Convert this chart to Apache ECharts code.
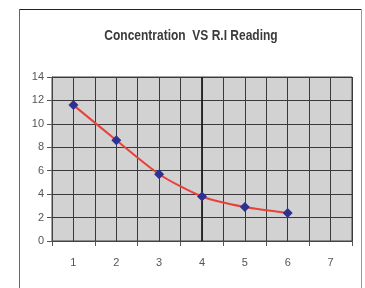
<!DOCTYPE html>
<html><head><meta charset="utf-8">
<script src="https://cdn.jsdelivr.net/npm/echarts@6/dist/echarts.min.js"></script>
<style>html,body{margin:0;padding:0;background:#fff}#c{width:365px;height:288px}</style>
</head><body><div id="c"></div>
<script>
var titleText = 'Concentration  VS R.I Reading';
var concentration = [1, 2, 3, 4, 5, 6];
var riReading = [11.6, 8.6, 5.7, 3.8, 2.9, 2.4];
var xTicks = [1, 2, 3, 4, 5, 6, 7];
var yTicks = [0, 2, 4, 6, 8, 10, 12, 14];

var chart = echarts.init(document.getElementById('c'));
var font = '"Liberation Sans", Arial, sans-serif';
chart.setOption({
  animation: false,
  backgroundColor: '#fff',
  graphic: [
    {type: 'line', shape: {x1: 19, y1: 9.5, x2: 361, y2: 9.5}, style: {stroke: '#222', lineWidth: 1}},
    {type: 'line', shape: {x1: 19.5, y1: 9, x2: 19.5, y2: 300}, style: {stroke: '#666', lineWidth: 1}},
    {type: 'line', shape: {x1: 361.5, y1: 9, x2: 361.5, y2: 300}, style: {stroke: '#999', lineWidth: 1}},
    {type: 'text', x: 191, y: 36, scaleX: 0.8, scaleY: 1,
     style: {text: titleText, x: 0, y: 0, align: 'center', verticalAlign: 'middle',
             font: 'bold 15px "Liberation Sans", Arial, sans-serif', fill: '#3a3a3a'}}
  ],
  grid: {left: 52, right: 13, top: 77, bottom: 47, show: true, backgroundColor: '#d2d2d2', borderColor: '#444', borderWidth: 1},
  xAxis: [{
    type: 'value', min: 0.5, max: 7.5, interval: 0.5,
    axisLine: {show: true, lineStyle: {color: '#444'}},
    axisTick: {show: false},
    splitLine: {show: true, lineStyle: {color: '#3a3a3a', width: 1}},
    axisLabel: {
      margin: 16, color: '#555', fontFamily: font, fontSize: 11,
      formatter: function (v) { return xTicks.indexOf(v) >= 0 ? String(v) : ''; }
    }
  }, {
    type: 'value', min: 0.5, max: 7.5, interval: 1, position: 'bottom',
    axisLine: {show: false},
    axisTick: {show: true, length: 5, lineStyle: {color: '#555'}},
    splitLine: {show: false},
    axisLabel: {show: false}
  }],
  yAxis: {
    type: 'value', min: yTicks[0], max: yTicks[yTicks.length - 1], interval: 2,
    axisLine: {show: true, lineStyle: {color: '#444'}},
    axisTick: {show: true, length: 5, lineStyle: {color: '#555'}},
    splitLine: {show: true, lineStyle: {color: '#3a3a3a', width: 1}},
    axisLabel: {margin: 8, color: '#555', fontFamily: font, fontSize: 11}
  },
  series: [{
    type: 'line', smooth: 0.25,
    data: concentration.map(function (x, i) { return [x, riReading[i]]; }),
    lineStyle: {color: '#e8413a', width: 2},
    symbol: 'diamond', symbolSize: 10,
    itemStyle: {color: '#2e3192'},
    markLine: {
      silent: true, symbol: 'none', label: {show: false},
      lineStyle: {color: '#222', width: 1.8, type: 'solid'},
      data: [{xAxis: 4}]
    },
    z: 5
  }]
});
</script></body></html>
